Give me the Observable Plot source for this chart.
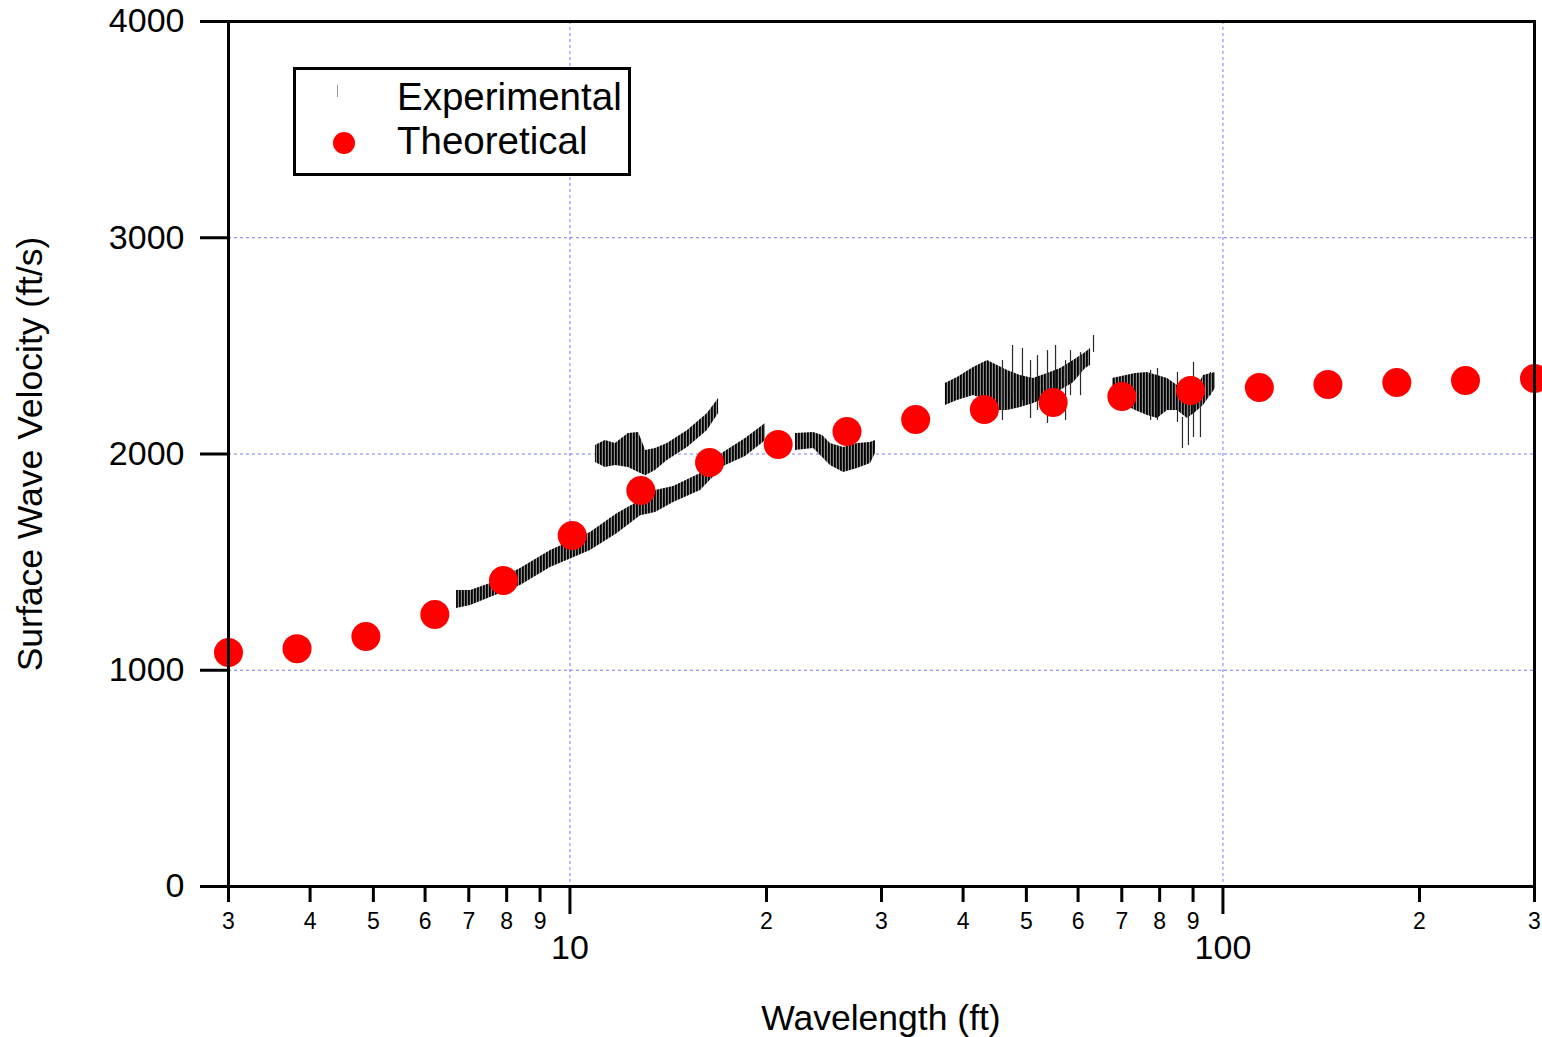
<!DOCTYPE html>
<html><head><meta charset="utf-8">
<script src="https://cdn.jsdelivr.net/npm/d3@7"></script>
<script src="https://cdn.jsdelivr.net/npm/@observablehq/plot@0.6"></script>
<style>
body{margin:0;background:#fff;}
#wrap{position:relative;width:1542px;height:1037px;font-family:"Liberation Sans",Arial,sans-serif;color:#000;}
#legend{position:absolute;left:293px;top:67px;width:332px;height:103px;border:3px solid #000;background:#fff;}
.lt{position:absolute;font-size:38.5px;line-height:44px;white-space:nowrap;}
</style></head><body><div id="wrap"></div>
<script>
// Theoretical dispersion curve (wavelength ft, velocity ft/s)
const theoryWavelength = [3, 3.82, 4.87, 6.21, 7.91, 10.08, 12.84, 16.36, 20.84, 26.56, 33.84, 43.12, 54.95, 70.02, 89.21, 113.7, 144.8, 184.6, 235.2, 300];
const theoryVelocity   = [1082, 1100, 1156, 1258, 1415, 1623, 1831, 1961, 2044, 2104, 2160, 2206, 2238, 2266, 2294, 2307, 2321, 2331, 2340, 2349];

// Experimental data: dense clusters [wavelength, vLow, vHigh]
const expSegA = [[6.705,1285,1369],[7.044,1299,1369],[7.555,1336,1401],[8.40,1392,1470],[9.338,1475,1554],[10.75,1554,1637],[11.82,1632,1725],[12.83,1715,1785],[13.52,1729,1831],[14.41,1776,1850],[15.85,1831,1910],[17.19,1942,2007],[18.57,1988,2072],[19.93,2062,2141]];
const expSegB = [[10.94,1961,2039],[11.33,1937,2062],[11.74,1947,2048],[12.29,1937,2095],[12.74,1914,2099],[13.06,1900,2016],[13.52,1924,2025],[14.10,1970,2048],[15.14,2030,2109],[16.24,2109,2187],[16.89,2187,2257]];
const expSegC = [[22.15,2016,2095],[23.61,2025,2099],[24.37,1984,2085],[25.06,1947,2048],[26.24,1914,2030],[27.56,1933,2048],[28.86,1956,2053],[29.37,2002,2062]];
const expSegD = [[37.58,2224,2326],[39.21,2247,2354],[41.50,2270,2400],[43.60,2247,2432],[45.16,2201,2409],[46.79,2201,2386],[48.98,2215,2363],[51.28,2233,2349],[53.87,2261,2372],[56.40,2294,2395],[59.04,2330,2432],[61.60,2395,2469],[62.70,2409,2488]];
const expSegE = [[67.74,2257,2349],[73.47,2201,2372],[76.64,2178,2377],[79.39,2164,2363],[82.24,2201,2349],[85.19,2201,2317],[88.24,2164,2303],[90.78,2192,2294],[93.36,2224,2363],[97.41,2303,2377]];
// Experimental isolated scatter marks [wavelength, vLow, vHigh]
const expSpikes = [[45.96,2155,2432],[47.62,2270,2502],[49.32,2247,2488],[50.74,2164,2432],[52.00,2201,2455],[53.87,2141,2478],[55.42,2247,2502],[57.41,2155,2432],[58.42,2270,2478],[60.52,2270,2469],[63.36,2469,2548],
  [77.48,2155,2386],[79.39,2155,2395],[85.19,2146,2377],[86.70,2025,2169],[88.55,2039,2270],[90.14,2076,2423],[92.38,2076,2340],[95.70,2270,2377]];

// Axis ticks
const yTicks = [0, 1000, 2000, 3000, 4000];
const yGrid = [1000, 2000, 3000];
const xGrid = [10, 100];
const xMinorTicks  = [3, 4, 5, 6, 7, 8, 9, 20, 30, 40, 50, 60, 70, 80, 90, 200, 300];
const xMinorLabels = ["3","4","5","6","7","8","9","2","3","4","5","6","7","8","9","2","3"];
const xMajorTicks  = [10, 100];
const xMajorLabels = ["10", "100"];

const theory = theoryWavelength.map((w, i) => ({w, v: theoryVelocity[i]}));
const bands = [expSegA, expSegB, expSegC, expSegD, expSegE]
  .flatMap((s, k) => s.map(([w, lo, hi]) => ({seg: k, w, lo, hi})));
const spikes = expSpikes.map(([w, lo, hi]) => ({w, lo, hi}));
const minorRows = xMinorTicks.map((t, i) => ({t, label: xMinorLabels[i]}));
const majorRows = xMajorTicks.map((t, i) => ({t, label: xMajorLabels[i]}));

const gridStyle = {stroke: "#7878ff", strokeWidth: 1, strokeDasharray: "3,3"};

const svg = Plot.plot({
  width: 1542, height: 1037,
  marginLeft: 228, marginRight: 8, marginTop: 21, marginBottom: 151,
  style: {fontFamily: "Liberation Sans, Arial, sans-serif", color: "black", background: "white", overflow: "visible"},
  x: {type: "log", domain: [3, 300]},
  y: {domain: [0, 4000]},
  marks: [
    Plot.ruleY(yGrid, gridStyle),
    Plot.ruleX(xGrid, gridStyle),
    Plot.areaY(bands, {x: "w", y1: "lo", y2: "hi", z: "seg", fill: "url(#vstripes)"}),
    Plot.ruleX(spikes, {x: "w", y1: "lo", y2: "hi", stroke: "#2a2a2a", strokeWidth: 1.2}),
    Plot.dot(theory, {x: "w", y: "v", r: 14.5, fill: "#ff0000"}),
    Plot.frame({stroke: "black", strokeWidth: 3}),
    Plot.axisY(yTicks, {tickSize: 28, tickPadding: 16, fontSize: 34, strokeWidth: 3, label: null, tickFormat: d => String(d)}),
    Plot.axisX(xMinorTicks, {tickSize: 16, strokeWidth: 3, fill: "none", label: null}),
    Plot.axisX(xMajorTicks, {tickSize: 28, strokeWidth: 3, fill: "none", label: null}),
    Plot.text(minorRows, {x: "t", y: () => 0, text: "label", dy: 35, fontSize: 23, fill: "black"}),
    Plot.text(majorRows, {x: "t", y: () => 0, text: "label", dy: 62, fontSize: 34, fill: "black"})
  ]
});

const s = d3.select(svg);
const pat = s.insert("defs", ":first-child").append("pattern")
  .attr("id", "vstripes").attr("patternUnits", "userSpaceOnUse").attr("width", 3).attr("height", 8);
pat.append("rect").attr("width", 3).attr("height", 8).attr("fill", "#8c8c8c");
pat.append("rect").attr("width", 1.8).attr("height", 8).attr("fill", "#000");

s.append("text").attr("transform", "translate(30,454) rotate(-90)")
  .attr("text-anchor", "middle").attr("dy", "0.35em").attr("font-size", 35.5).attr("fill", "black")
  .text("Surface Wave Velocity (ft/s)");
s.append("text").attr("x", 881).attr("y", 1018)
  .attr("text-anchor", "middle").attr("dy", "0.35em").attr("font-size", 35.5).attr("fill", "black")
  .text("Wavelength (ft)");

const wrap = document.getElementById("wrap");
wrap.appendChild(svg);
wrap.insertAdjacentHTML("beforeend", `
<div id="legend"></div>
<div style="position:absolute;left:337px;top:85px;width:1px;height:12px;background:#999;"></div>
<div style="position:absolute;left:333px;top:132px;width:22px;height:22px;border-radius:50%;background:#ff0000;"></div>
<div class="lt" style="left:397px;top:75px;">Experimental</div>
<div class="lt" style="left:397px;top:119px;">Theoretical</div>
`);
</script>
</body></html>
